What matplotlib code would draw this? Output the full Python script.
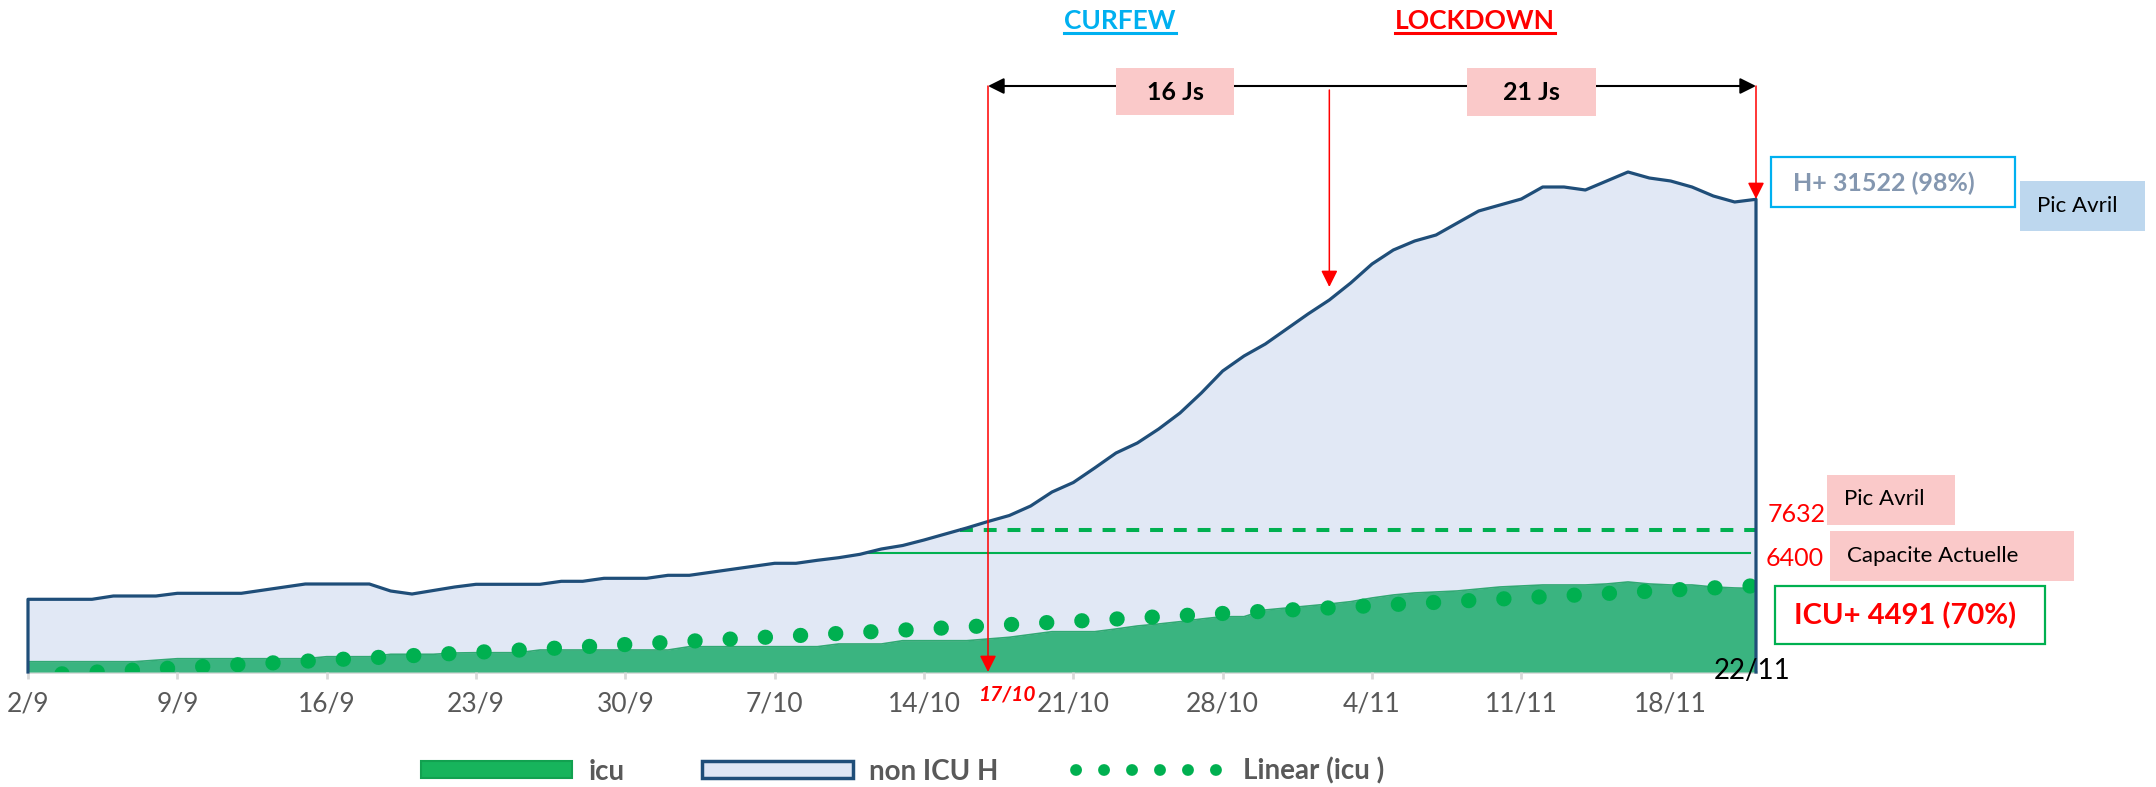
import numpy as np
import matplotlib.pyplot as plt
from matplotlib.patches import Rectangle, Patch
from matplotlib.lines import Line2D

plt.rcParams['font.family'] = ['Lato', 'DejaVu Sans']

W, H = 2156, 787

# daily values, 2/9 -> 22/11
icu = [554, 554, 554, 554, 554, 554, 635, 715, 715, 715, 715, 715, 715, 715,
       823, 823, 823, 952, 952, 952, 1022, 1038, 1038, 1038,
       1183, 1183, 1183, 1183, 1183, 1183, 1183,
       1361, 1361, 1361, 1361, 1361, 1361, 1361,
       1506, 1506, 1506, 1683, 1683, 1683, 1683,
       1775, 1866, 2017, 2167, 2167, 2167, 2313, 2474, 2581, 2705, 2850, 2974, 2974,
       3334, 3442, 3549, 3657, 3781,
       3980, 4141, 4249, 4302, 4356, 4464, 4571, 4625, 4679, 4679, 4679, 4733,
       4840, 4733, 4679, 4679, 4571, 4518, 4491]
hosp = [4848, 4848, 4848, 4848, 5068, 5068, 5068, 5248, 5248, 5248, 5248,
        5455, 5662, 5868, 5868, 5868, 5868, 5401, 5201, 5435, 5668,
        5848, 5848, 5848, 5848, 6048, 6048, 6248, 6248, 6248, 6448, 6448,
        6648, 6849, 7049, 7249, 7249, 7449, 7622, 7849, 8202, 8436, 8802,
        9203, 9603, 10036, 10436, 11070, 12003, 12637, 13604, 14604, 15271,
        16204, 17271, 18605, 20072, 21072, 21873, 22873, 23873, 24807, 25940,
        27207, 28141, 28741, 29141, 29942, 30742, 31142, 31542, 32342, 32342,
        32142, 32742, 33343, 32942, 32742, 32342, 31742, 31342, 31522]
tick_labels = ['2/9', '9/9', '16/9', '23/9', '30/9', '7/10', '14/10',
               '21/10', '28/10', '4/11', '11/11', '18/11']
pic_avril = 7632
capacite = 6400

days = np.arange(len(icu))
fig = plt.figure(figsize=(W / 100, H / 100), dpi=100)
rect = [28 / W, 1 - 672 / H, 1728 / W, 672 / H]
ax_h = fig.add_axes(rect)
ax = fig.add_axes(rect)
ax_top = fig.add_axes(rect)

H_TOP = 44812
ICU_TOP = 36129

ax_h.fill_between(days, hosp, color='#E1E8F5', lw=0)
ax_h.set_ylim(0, H_TOP)

ax.fill_between(days, icu, color='#3AB480', lw=0)
ax.plot(days, icu, color='#31A873', lw=1.2)
trend = np.polyval(np.polyfit(days, icu, 1), days)
ax.plot(days, trend, color='#00B050', lw=11, linestyle=(0.08, (0.01, 2.295)),
        dash_capstyle='round')
ax.plot([43.7, 81], [pic_avril, pic_avril], color='#00B050', lw=2.9,
        linestyle=(0, (3.2, 2.7)))
ax.plot([39.3, 80.7], [capacite, capacite], color='#00B050', lw=1.5)
ax.set_ylim(0, ICU_TOP)

ax_top.plot(np.r_[0, days, days[-1]], np.r_[0, hosp, 0], color='#1F4E79', lw=2.3,
            clip_on=False)
ax_top.set_ylim(0, H_TOP)

for a in (ax_h, ax, ax_top):
    a.set_xlim(0, 81)
for a in (ax_h, ax_top):
    a.axis('off')
ax.patch.set_visible(False)
ax_top.patch.set_visible(False)

for s in ('left', 'right', 'top'):
    ax.spines[s].set_visible(False)
ax.spines['bottom'].set_color('#D9D9D9')
ax.spines['bottom'].set_linewidth(2)
ax.spines['bottom'].set_zorder(0.5)
ax.set_yticks([])
ax.set_xticks(np.arange(0, 78, 7))
ax.set_xticklabels(tick_labels)
ax.tick_params(axis='x', length=5, width=2, color='#D9D9D9', labelsize=19,
               labelcolor='#595959', pad=9)


def f(y):
    return (672 - y) / 672


def arrow(x0, y0, x1, y1, style, color, lw, ms):
    ax_top.annotate('', xy=(x1, f(y1)), xytext=(x0, f(y0)),
                    xycoords=('data', 'axes fraction'),
                    textcoords=('data', 'axes fraction'),
                    arrowprops=dict(arrowstyle=style, color=color, lw=lw,
                                    shrinkA=0, shrinkB=0, mutation_scale=ms),
                    annotation_clip=False)


arrow(45, 86, 81, 86, '<|-|>,head_length=0.6,head_width=0.3', 'black', 1.5, 16)
red = '-|>,head_length=0.5,head_width=0.25'
arrow(45, 86, 45, 672, red, '#FF0000', 1.1, 20)
arrow(61, 90, 61, 287, red, '#FF0000', 1.1, 20)
arrow(81, 86, 81, 199, red, '#FF0000', 1.1, 20)


def box(x0, y0, x1, y1, face, edge='none', lw=0):
    fig.add_artist(Rectangle((x0 / W, 1 - y1 / H), (x1 - x0) / W, (y1 - y0) / H,
                             transform=fig.transFigure, facecolor=face,
                             edgecolor=edge, lw=lw))


def label(x, y, s, **kw):
    return fig.text(x / W, 1 - y / H, s, ha='center', va='center', **kw)


pink = '#FAC9C9'
box(1116, 68, 1234, 115, pink)
label(1175, 92, '16 Js', fontsize=18, weight='bold', color='black')
box(1467, 68, 1596, 116, pink)
label(1531, 92, '21 Js', fontsize=18, weight='bold', color='black')

t1 = label(1120, 21, 'CURFEW', fontsize=19, weight='bold', color='#00B0F0')
t2 = label(1475, 21, 'LOCKDOWN', fontsize=19, weight='bold', color='#FF0000')

box(1771, 157, 2015, 207, 'white', '#00B0F0', 1.6)
label(1884, 183, 'H+ 31522 (98%)', fontsize=18, weight='bold', color='#8497B0')
box(2020, 181, 2145, 231, '#BDD7EE')
label(2077, 206, 'Pic Avril', fontsize=16, color='black')

label(1797, 514, str(pic_avril), fontsize=18, color='#FF0000')
box(1827, 475, 1955, 525, pink)
label(1884, 499, 'Pic Avril', fontsize=16, color='black')
label(1795, 558, str(capacite), fontsize=18, color='#FF0000')
box(1830, 531, 2074, 581, pink)
label(1933, 556, 'Capacite Actuelle', fontsize=16, color='black')
box(1775, 586, 2045, 644, 'white', '#00B050', 1.6)
label(1905, 616, 'ICU+ 4491 (70%)', fontsize=21, weight='bold', color='#FF0000')

label(1752, 671, '22/11', fontsize=20, color='black')
label(1007, 695, '17/10', fontsize=15, weight='bold', style='italic', color='#FF0000')

handles = [Patch(facecolor='#17B45C', edgecolor='#12A150', lw=1.5),
           Patch(facecolor='#DEE6F4', edgecolor='#1F4E79', lw=2.5),
           Line2D([], [], color='#00B050', lw=8.5, linestyle=(0, (0.01, 2.36)),
                  dash_capstyle='round')]
leg = fig.legend(handles, ['icu', 'non ICU H', 'Linear (icu )'], loc='center',
                 bbox_to_anchor=(903 / W, 1 - 771 / H), ncol=3, frameon=False,
                 handlelength=5.43, handleheight=0.55, handletextpad=0.58,
                 columnspacing=2.8, prop=dict(weight='bold', size=20))
for t in leg.get_texts():
    t.set_color('#595959')

# underline the two headings
fig.canvas.draw()
for t, c in ((t1, '#00B0F0'), (t2, '#FF0000')):
    bb = t.get_window_extent()
    fig.add_artist(Line2D([bb.x0 / W, bb.x1 / W], [1 - 33 / H, 1 - 33 / H],
                          color=c, lw=2.2, transform=fig.transFigure))

fig.savefig('out.png', dpi=100)
